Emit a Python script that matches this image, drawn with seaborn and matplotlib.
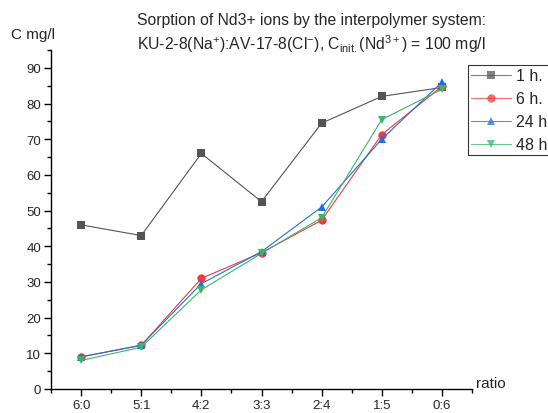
import matplotlib
matplotlib.use("Agg")
import matplotlib.pyplot as plt
import seaborn as sns
import pandas as pd
from matplotlib.ticker import MultipleLocator

categories = ["6:0", "5:1", "4:2", "3:3", "2:4", "1:5", "0:6"]
s_1h = [46.0, 43.0, 66.0, 52.5, 74.5, 82.0, 84.5]
s_6h = [9.0, 12.2, 31.0, 38.2, 47.3, 71.3, 84.8]
s_24h = [9.0, 12.3, 29.5, 38.5, 51.0, 70.0, 86.0]
s_48h = [8.0, 11.7, 27.8, 38.0, 48.0, 75.5, 84.0]
series_names = ["1 h.", "6 h.", "24 h.", "48 h."]

rows = []
for name, vals in zip(series_names, [s_1h, s_6h, s_24h, s_48h]):
    for i, v in enumerate(vals):
        rows.append({"ratio": i, "C": v, "series": name})
df = pd.DataFrame(rows)

sns.set_theme(style="white")
plt.rcParams['font.family'] = ['Liberation Sans', 'DejaVu Sans']
plt.rcParams['mathtext.fontset'] = 'custom'
plt.rcParams['mathtext.rm'] = 'Liberation Sans'
plt.rcParams['mathtext.it'] = 'Liberation Sans'
plt.rcParams['mathtext.default'] = 'regular'

fig = plt.figure(figsize=(5.48, 4.14), dpi=100)
ax = fig.add_axes([51/548, 1-390/414, 421/548, 339/414])

palette = {"1 h.": "#555555", "6 h.": "#EE3B3B", "24 h.": "#1F6FE0", "48 h.": "#3DB36B"}
markers = {"1 h.": "s", "6 h.": "o", "24 h.": "^", "48 h.": "v"}
sns.lineplot(data=df, x="ratio", y="C", hue="series", style="series",
             palette=palette, markers=markers, dashes=False, ax=ax,
             linewidth=0.8, markersize=6, markeredgewidth=0)

ax.set_xlim(-0.5, 6.5)
ax.set_ylim(0, 95)
ax.set_xticks(range(len(categories)))
ax.set_xticklabels(categories)
ax.xaxis.set_minor_locator(MultipleLocator(0.5))
ax.yaxis.set_major_locator(MultipleLocator(10))
ax.yaxis.set_minor_locator(MultipleLocator(5))
for s in ["top", "right"]:
    ax.spines[s].set_visible(False)
for s in ["left", "bottom"]:
    ax.spines[s].set_color("black")
    ax.spines[s].set_linewidth(1.0)
ax.tick_params(axis="both", which="major", direction="out", length=5, width=1,
               color="black", labelsize=9.5, bottom=True, left=True, pad=2)
ax.tick_params(axis="both", which="minor", direction="out", length=3, width=1,
               color="black", bottom=True, left=True)
ax.set_xlabel("")
ax.set_ylabel("")

fig.text(11/548, 1-35/414, "C mg/l", fontsize=11, va="center", ha="left")
fig.text(476/548, 1-384/414, "ratio", fontsize=11, va="center", ha="left")
fig.text(137/548, 1-21/414, "Sorption of Nd3+ ions by the interpolymer system:",
         fontsize=11.3, va="center", ha="left")
fig.text(137/548, 1-44/414,
         r"KU-2-8(Na$^{+}$):AV-17-8(Cl$^{-}$), C$_{init.}$(Nd$^{3+}$) = 100 mg/l",
         fontsize=11.3, va="center", ha="left")

leg = ax.legend(loc="upper left", bbox_to_anchor=((468-51)/421, (390-66)/339),
                frameon=True, fancybox=False, fontsize=11.5, borderpad=0.2,
                labelspacing=0.5, handlelength=2.5, handletextpad=0.3,
                borderaxespad=0, markerscale=1.0)
leg.get_frame().set_edgecolor("black")
leg.get_frame().set_linewidth(0.8)
for h in leg.legend_handles:
    h.set_alpha(0.75)

fig.savefig("out.png", dpi=100)
